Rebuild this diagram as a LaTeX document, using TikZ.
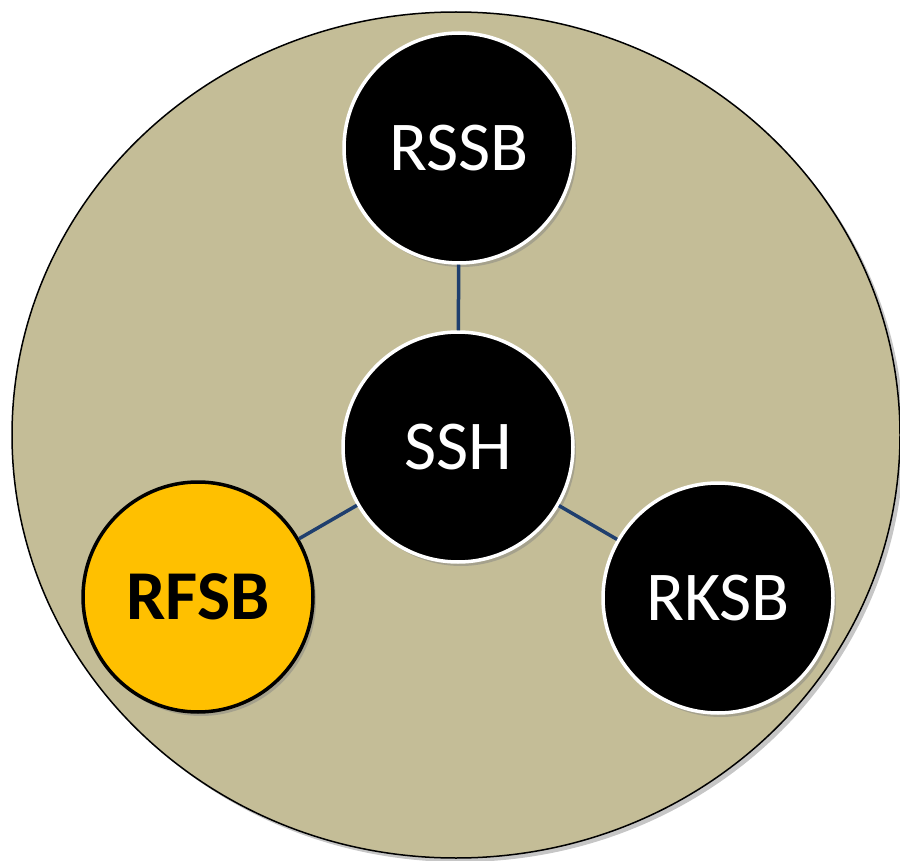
\documentclass[tikz,border=0pt]{standalone}
\usepackage{fontspec}
\setmainfont{Carlito}
\usetikzlibrary{shadows,shapes.geometric}
\definecolor{tan}{HTML}{C4BD97}
\definecolor{gold}{HTML}{FFC000}
\definecolor{navy}{HTML}{1F3F6E}
\tikzset{
  ball/.style={circle, minimum size=230pt, inner sep=0pt, line width=3.5pt,
    font=\fontsize{70}{70}\selectfont,
    drop shadow={shadow xshift=3pt, shadow yshift=-4pt, opacity=0.45}},
  darkball/.style={ball, fill=black, draw=white, text=white},
  goldball/.style={ball, fill=gold, draw=black, text=black, font=\fontsize{70}{70}\selectfont\bfseries},
  link/.style={draw=navy, line width=3.5pt}
}
\begin{document}
\begin{tikzpicture}[x=1pt,y=-1pt]
\useasboundingbox (0,0) rectangle (900,861);
\node[ellipse, minimum width=888pt, minimum height=846pt, inner sep=0pt,
  fill=tan, draw=black, line width=1.5pt,
  drop shadow={shadow xshift=4pt, shadow yshift=-4pt, opacity=0.45}] (disc) at (456,435) {};
\node[darkball] (rssb) at (459,148) {RSSB};
\node[darkball] (ssh) at (458,447) {SSH};
\node[goldball] (rfsb) at (198,597) {RFSB};
\node[darkball] (rksb) at (718,598) {RKSB};
\draw[link] (ssh) -- (rssb);
\draw[link] (ssh) -- (rfsb);
\draw[link] (ssh) -- (rksb);
\end{tikzpicture}
\end{document}
